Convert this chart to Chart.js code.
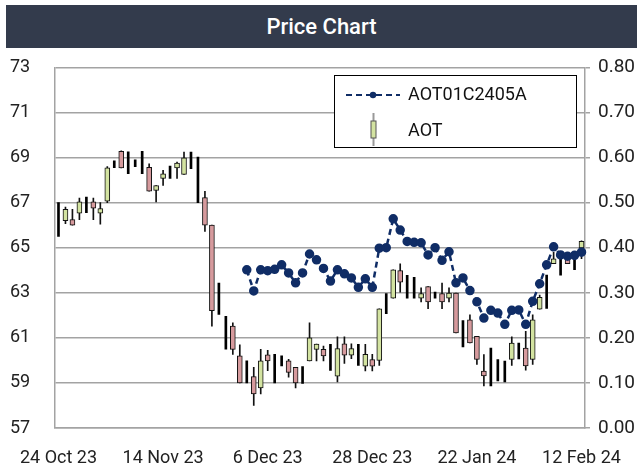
<!DOCTYPE html>
<html>
<head>
<meta charset="utf-8">
<script src="https://cdn.jsdelivr.net/npm/chart.js@4.4.1/dist/chart.umd.min.js"></script>
<style>
  html, body { margin: 0; padding: 0; background: #fff; overflow: hidden; }
  body { width: 637px; height: 472px; position: relative; font-family: Roboto, sans-serif; }
  #title { position: absolute; left: 6px; top: 5px; width: 631px; height: 43px; background: #333b4c;
           color: #fff; font-size: 22px; font-weight: 500; line-height: 43px; text-align: center; }
  #wrap { position: absolute; left: 0; top: 48px; width: 680px; height: 424px; }
</style>
</head>
<body>
<div id="title">Price Chart</div>
<div id="wrap"><canvas id="priceChart" width="680" height="424"></canvas></div>
<script>
// trading days shown on the x axis
const dates = [
  "24 Oct 23","25 Oct 23","26 Oct 23","27 Oct 23","30 Oct 23","31 Oct 23",
  "1 Nov 23","2 Nov 23","3 Nov 23","6 Nov 23","7 Nov 23","8 Nov 23","9 Nov 23","10 Nov 23",
  "13 Nov 23","14 Nov 23","15 Nov 23","16 Nov 23","17 Nov 23","20 Nov 23","21 Nov 23","22 Nov 23",
  "23 Nov 23","24 Nov 23","27 Nov 23","28 Nov 23","29 Nov 23","30 Nov 23",
  "1 Dec 23","4 Dec 23","6 Dec 23","7 Dec 23","8 Dec 23","12 Dec 23","13 Dec 23","14 Dec 23",
  "15 Dec 23","18 Dec 23","19 Dec 23","20 Dec 23","21 Dec 23","22 Dec 23","25 Dec 23","26 Dec 23",
  "27 Dec 23","28 Dec 23",
  "2 Jan 24","3 Jan 24","4 Jan 24","5 Jan 24","8 Jan 24","9 Jan 24","10 Jan 24","11 Jan 24",
  "12 Jan 24","15 Jan 24","16 Jan 24","17 Jan 24","18 Jan 24","19 Jan 24","22 Jan 24","23 Jan 24",
  "24 Jan 24","25 Jan 24","26 Jan 24","29 Jan 24","30 Jan 24","31 Jan 24",
  "1 Feb 24","2 Feb 24","5 Feb 24","6 Feb 24","7 Feb 24","8 Feb 24","9 Feb 24","12 Feb 24"
];

// AOT candles (null open/close = high-low bar only)
const aotOpen = [
  null,66.2,66.25,66.53,null,67.04,66.53,67.07,null,69.28,
  null,null,null,68.57,67.54,68.07,null,68.54,68.25,null,
  null,67.22,66.0,null,null,61.52,60.2,null,59.28,58.78,
  60.25,null,null,59.98,59.69,null,59.98,60.49,60.49,null,
  59.3,60.74,60.23,null,59.74,60.04,60.0,null,62.76,63.99,
  null,null,62.76,63.28,null,62.96,62.76,62.99,null,61.8,
  61.07,59.53,null,null,null,60.04,null,60.55,60.04,62.27,
  null,64.29,null,64.51,null,64.99
];
const aotHigh = [
  67.0,66.8,66.7,67.2,67.25,67.2,67.0,68.6,68.85,69.3,
  69.25,68.9,69.28,68.72,67.76,68.43,68.62,68.8,69.24,69.24,
  69.02,67.5,66.0,63.43,61.96,61.67,60.69,59.98,59.69,60.49,
  60.45,60.27,60.2,60.05,59.69,59.72,61.67,60.72,60.64,60.71,
  61.04,61.04,60.74,60.71,60.71,60.27,62.29,62.96,64.02,64.28,
  63.77,63.69,63.22,63.28,63.03,63.43,63.22,62.99,61.77,62.02,
  61.07,60.26,60.55,60.04,59.97,61.04,60.77,61.29,62.02,62.9,
  63.78,64.8,64.65,64.8,64.65,65.31
];
const aotLow = [
  65.5,66.07,66.0,66.24,66.55,66.24,66.04,67.0,68.55,68.54,
  68.28,68.6,68.28,67.51,67.03,67.76,68.07,68.07,68.25,68.51,
  67.0,65.72,61.52,62.04,60.5,60.27,59.0,59.0,58.0,58.51,
  59.54,59.0,59.76,59.25,58.78,58.98,59.98,59.98,59.98,59.56,
  59.05,59.86,60.08,59.78,59.53,59.53,59.78,62.07,62.76,63.03,
  62.76,62.76,62.59,62.29,62.76,62.29,62.59,61.22,60.6,60.77,
  59.82,58.87,58.87,59.09,59.05,59.78,60.07,59.57,59.82,62.27,
  62.31,64.29,63.78,64.29,64.02,64.51
];
const aotClose = [
  null,66.7,66.0,67.03,null,66.75,66.74,68.54,null,68.54,
  null,null,null,67.51,67.76,68.28,null,68.76,68.99,null,
  null,66.0,62.21,null,null,60.49,59.0,null,58.51,59.98,
  59.98,null,null,59.47,59.0,null,61.0,60.72,60.2,null,
  60.52,60.23,60.52,null,60.27,59.74,62.29,null,64.02,63.47,
  null,null,62.96,62.59,null,62.59,62.99,61.22,null,60.77,
  60.04,59.31,null,null,null,60.77,null,59.75,61.8,62.8,
  null,64.51,null,64.29,null,65.28
];

// AOT01C2405A warrant price (right axis)
const optionPrice = [
  null,null,null,null,null,null,null,null,null,null,
  null,null,null,null,null,null,null,null,null,null,
  null,null,null,null,null,null,null,0.351,0.304,0.351,
  0.349,0.352,0.362,0.344,0.322,0.344,0.386,0.373,0.354,0.326,
  0.351,0.342,0.333,0.312,0.331,0.312,0.399,0.400,0.464,0.439,
  0.414,0.412,0.411,0.384,0.400,0.372,0.391,0.322,0.333,0.305,
  0.280,0.244,0.261,0.255,0.230,0.261,0.262,0.230,0.281,0.320,
  0.362,0.402,0.384,0.381,0.383,0.390
];

const leftTicks = [57, 73, 2];
const rightTicks = [0, 0.8, 0.1];
const labelEvery = 15;

const UP = '#d3e3a1', DOWN = '#d69a9d', NAVY = '#102d66', GRID = '#a3a3a3';
const FONT = { family: 'Roboto', size: 18 };

const bodies = aotOpen.map((o, i) => o == null ? null : [o, aotClose[i]]);
const wicks = aotOpen.map((o, i) => o == null ? null : [aotLow[i], aotHigh[i]]);
const bars = aotOpen.map((o, i) => o == null ? [aotLow[i], aotHigh[i]] : null);

const legendBox = {
  id: 'legendBox',
  afterDraw(chart) {
    const c = chart.ctx;
    c.save();
    c.fillStyle = '#fff';
    c.strokeStyle = '#000';
    c.lineWidth = 1;
    c.fillRect(334.5, 27.5, 242, 72);
    c.strokeRect(334.5, 27.5, 242, 72);
    // line sample
    c.strokeStyle = NAVY;
    c.lineWidth = 2;
    c.setLineDash([6, 4]);
    c.beginPath(); c.moveTo(346, 47); c.lineTo(400, 47); c.stroke();
    c.setLineDash([]);
    c.fillStyle = NAVY;
    c.beginPath(); c.arc(373, 47, 3.2, 0, Math.PI * 2); c.fill();
    // candle sample
    c.strokeStyle = '#999';
    c.beginPath(); c.moveTo(373.5, 65); c.lineTo(373.5, 98); c.stroke();
    c.fillStyle = UP;
    c.fillRect(371, 73, 5, 17);
    c.strokeStyle = '#555';
    c.lineWidth = 1;
    c.strokeRect(371, 73, 5, 17);
    c.fillStyle = '#111';
    c.font = '18px Roboto';
    c.textBaseline = 'middle';
    c.fillText('AOT01C2405A', 408, 47);
    c.fillText('AOT', 408, 83);
    c.restore();
  }
};

new Chart(document.getElementById('priceChart').getContext('2d'), {
  data: {
    labels: dates,
    datasets: [
      {
        type: 'line', label: 'AOT01C2405A', data: optionPrice, yAxisID: 'y1', order: 0,
        borderColor: NAVY, borderWidth: 2.5, borderDash: [6, 4], tension: 0,
        pointRadius: 3.5, pointBackgroundColor: NAVY, pointBorderColor: NAVY, spanGaps: false
      },
      {
        type: 'bar', label: 'AOT', data: bodies, yAxisID: 'y', order: 1, grouped: false,
        barThickness: 5, borderWidth: 1, borderColor: '#111', borderSkipped: false,
        backgroundColor: ctx => (aotClose[ctx.dataIndex] >= aotOpen[ctx.dataIndex] ? UP : DOWN)
      },
      {
        type: 'bar', label: 'wick', data: wicks, yAxisID: 'y', order: 2, grouped: false,
        barThickness: 1, backgroundColor: '#111', borderWidth: 0
      },
      {
        type: 'bar', label: 'hl', data: bars, yAxisID: 'y', order: 2, grouped: false,
        barThickness: 2, backgroundColor: '#000', borderWidth: 0
      }
    ]
  },
  options: {
    responsive: false,
    animation: false,
    layout: { padding: { top: 17, left: 10, right: 0, bottom: 0 } },
    plugins: { legend: { display: false }, tooltip: { enabled: false } },
    scales: {
      x: {
        type: 'category', offset: true,
        grid: { display: false },
        border: { display: true, color: GRID, width: 1.5 },
        ticks: {
          autoSkip: false, maxRotation: 0, minRotation: 0, padding: 12, color: '#222', font: FONT,
          callback: (v, i) => (i % labelEvery === 0 ? dates[i] : null)
        },
        afterFit: s => { s.height = 44; }
      },
      y: {
        position: 'left', min: leftTicks[0], max: leftTicks[1],
        grid: { color: GRID, lineWidth: 1.5, drawTicks: false },
        border: { display: true, color: GRID, width: 1.5 },
        ticks: { stepSize: leftTicks[2], crossAlign: 'far', color: '#222', font: FONT },
        afterFit: s => { s.width = 45; }
      },
      y1: {
        position: 'right', min: rightTicks[0], max: rightTicks[1],
        grid: { drawOnChartArea: false, color: GRID, lineWidth: 1.5, tickLength: 5 },
        border: { display: true, color: GRID, width: 1.5 },
        ticks: { stepSize: rightTicks[2], padding: 8, color: '#222', font: { family: 'Roboto', size: 19 },
                 callback: v => Number(v).toFixed(2) },
        afterFit: s => { s.width = 95; }
      }
    }
  },
  plugins: [legendBox]
});
</script>
</body>
</html>
